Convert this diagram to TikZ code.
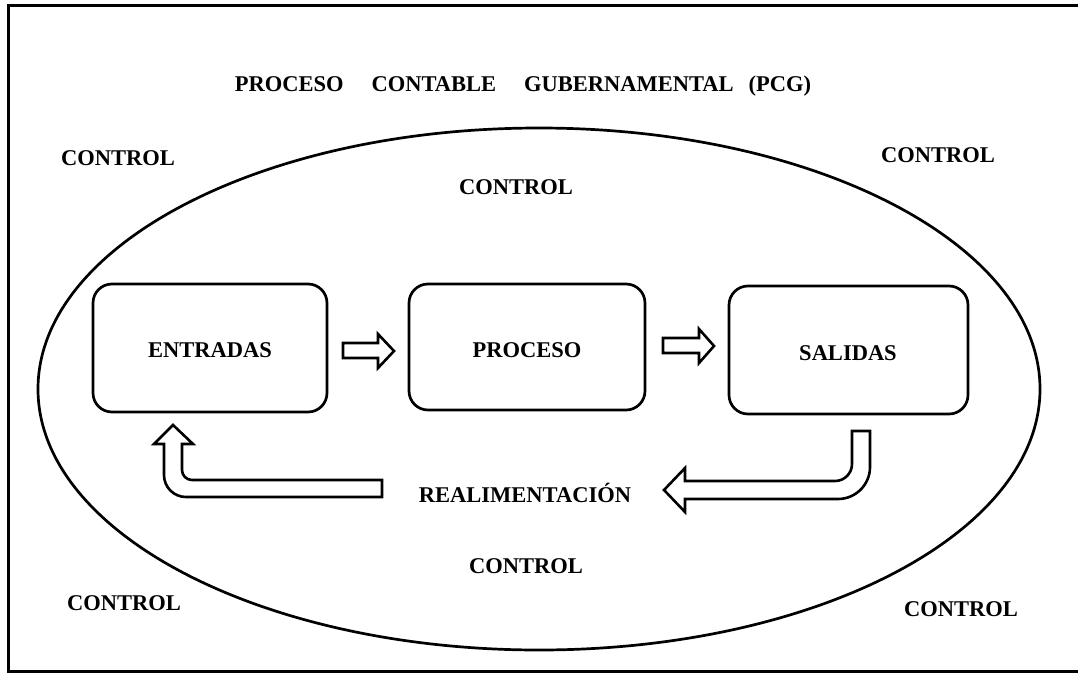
\documentclass[tikz,border=0pt]{standalone}
\usepackage{fontspec}
\setmainfont{Liberation Serif}
\begin{document}
\begin{tikzpicture}[x=1pt,y=-1pt,
  lbl/.style={font=\fontsize{22.5}{26}\selectfont\bfseries, inner sep=0pt},
  stagebox/.style={draw, line width=2.7pt, rounded corners=19pt},
  hollow/.style={draw, line width=2.6pt, fill=white, line join=miter},
  frameline/.style={draw, line width=3pt},
  loopline/.style={draw, line width=2.7pt}]
\useasboundingbox (0,0) rectangle (1078,672);

% outer frame (right side runs past the page edge)
\draw[frameline] (8,5) rectangle (1100,671);

% system boundary
\draw[loopline] (539,389) ellipse [x radius=501, y radius=261];

% stages
\draw[stagebox] (93,284) rectangle (327,412);
\draw[stagebox] (409,284) rectangle (645,410);
\draw[stagebox] (729,286) rectangle (968,414);

\node[lbl] (entradas) at (210,350) {ENTRADAS};
\node[lbl] (proceso)  at (527,350) {PROCESO};
\node[lbl] (salidas)  at (848,353) {SALIDAS};

% block arrows between stages
\draw[hollow] (343,343) -- (378,343) -- (378,334) -- (394,351) -- (378,368)
  -- (378,358) -- (343,358) -- cycle;
\draw[hollow] (663,338) -- (699,338) -- (699,329) -- (714,346) -- (699,363)
  -- (699,353) -- (663,353) -- cycle;

% feedback: out of SALIDAS, bending left
\draw[hollow] (852,431) -- (870,431) -- (870,467)
  .. controls (870,484.7) and (855.7,499) .. (838,499)
  -- (685,499) -- (685,512) -- (664,490) -- (685,468) -- (685,481)
  -- (835,481) .. controls (844.4,481) and (852,473.4) .. (852,464) -- cycle;

% feedback: back up into ENTRADAS
\draw[hollow] (382,480) -- (192,480)
  .. controls (186.5,480) and (182,475.5) .. (182,470)
  -- (182,444) -- (193,444) -- (173,425) -- (154,444) -- (164,444)
  -- (164,475) .. controls (164,487.2) and (173.8,497) .. (186,497)
  -- (382,497) -- cycle;

\node[lbl] (feedback) at (525,493) {REALIMENTACIÓN};

% title
\node[lbl] (title) at (523,86) {PROCESO\hspace{28pt}CONTABLE\hspace{28pt}GUBERNAMENTAL\hspace{15pt}(PCG)};

% control labels
\node[lbl] (ctlTL) at (118,158) {CONTROL};
\node[lbl] (ctlTC) at (516,187) {CONTROL};
\node[lbl] (ctlTR) at (938,155) {CONTROL};
\node[lbl] (ctlBC) at (526,566) {CONTROL};
\node[lbl] (ctlBL) at (124,603) {CONTROL};
\node[lbl] (ctlBR) at (961,609) {CONTROL};
\end{tikzpicture}
\end{document}
